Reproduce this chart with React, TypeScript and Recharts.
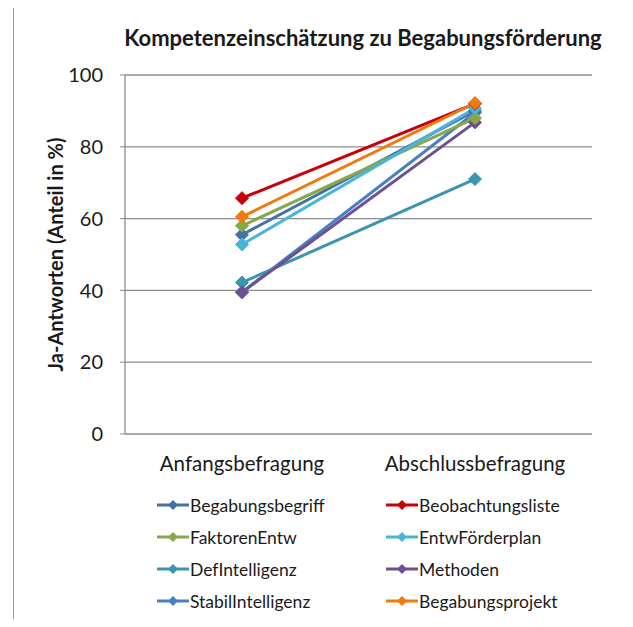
import { LineChart, Line, XAxis, YAxis, CartesianGrid } from 'recharts'

const CATEGORIES = ['Anfangsbefragung', 'Abschlussbefragung']

// Werte pro Reihe: [Anfang, Abschluss]
const BEGABUNGSBEGRIFF = [55.5, 90]
const BEOBACHTUNGSLISTE = [65.7, 92]
const FAKTOREN_ENTW = [58, 88]
const ENTW_FOERDERPLAN = [52.8, 90.7]
const DEF_INTELLIGENZ = [42.2, 71]
const METHODEN = [39.5, 86.8]
const STABIL_INTELLIGENZ = [39.5, 89.5]
const BEGABUNGSPROJEKT = [60.5, 92.2]

const Y_TICKS = [0, 20, 40, 60, 80, 100]

// Legende zeilenweise, wie im Original
const SERIES = [
  { key: 'Begabungsbegriff', values: BEGABUNGSBEGRIFF, color: '#4470A8' },
  { key: 'Beobachtungsliste', values: BEOBACHTUNGSLISTE, color: '#C8000A' },
  { key: 'FaktorenEntw', values: FAKTOREN_ENTW, color: '#86A84A' },
  { key: 'EntwFörderplan', values: ENTW_FOERDERPLAN, color: '#47B4D8' },
  { key: 'DefIntelligenz', values: DEF_INTELLIGENZ, color: '#3A96AE' },
  { key: 'Methoden', values: METHODEN, color: '#6E5090' },
  { key: 'StabilIntelligenz', values: STABIL_INTELLIGENZ, color: '#4A7EC4' },
  { key: 'Begabungsprojekt', values: BEGABUNGSPROJEKT, color: '#F07A10' },
]

// Zeichenreihenfolge: Methoden bleibt unten sichtbar
const DRAW_ORDER = [
  'StabilIntelligenz', 'Begabungsbegriff', 'DefIntelligenz', 'Methoden',
  'FaktorenEntw', 'EntwFörderplan', 'Beobachtungsliste', 'Begabungsprojekt',
]

const data = CATEGORIES.map((name, i) => {
  const row: Record<string, string | number> = { name }
  SERIES.forEach(s => { row[s.key] = s.values[i] })
  return row
})

const FONT = 'Lato, "Open Sans", sans-serif'
const TEXT = '#1a1a1a'
const GRID = '#8c8c8c'

const Diamond = (props: any) => {
  const { cx, cy, stroke } = props
  if (cx == null || cy == null) return null
  const r = 6.5
  return (
    <path
      d={`M${cx},${cy - r} L${cx + r},${cy} L${cx},${cy + r} L${cx - r},${cy} Z`}
      fill={stroke}
      stroke={stroke}
    />
  )
}

function LegendIcon({ color }: { color: string }) {
  return (
    <svg width={32} height={12} style={{ flexShrink: 0 }}>
      <line x1={0} y1={6} x2={32} y2={6} stroke={color} strokeWidth={3} />
      <path d="M16,1 L21,6 L16,11 L11,6 Z" fill={color} />
    </svg>
  )
}

export default function App() {
  return (
    <div style={{ position: 'relative', width: 633, height: 627, margin: -8, overflow: 'hidden', background: '#fff', fontFamily: FONT }}>
      {/* Rahmen */}
      <div style={{ position: 'absolute', left: 13, top: 6, width: 614, height: 640, border: '1px solid #9a9a9a' }} />

      <div style={{ position: 'absolute', left: 363, top: 24, transform: 'translateX(-50%)', fontSize: 22, fontWeight: 700, color: TEXT, whiteSpace: 'nowrap', lineHeight: '28px' }}>
        Kompetenzeinschätzung zu Begabungsförderung
      </div>

      <div style={{ position: 'absolute', left: 0, top: 0 }}>
        <LineChart width={633} height={627} data={data} margin={{ top: 75, right: 41, bottom: 153, left: 65 }}>
          <CartesianGrid horizontal vertical={false} stroke={GRID} strokeWidth={1.3} />
          <XAxis
            dataKey="name"
            axisLine={false}
            tickLine={false}
            tickSize={0}
            tickMargin={22}
            height={40}
            padding={{ left: 117, right: 117 }}
            tick={{ fontSize: 20.5, fill: TEXT, fontFamily: FONT }}
          />
          <YAxis
            domain={[0, 100]}
            ticks={Y_TICKS}
            width={60}
            axisLine={{ stroke: GRID, strokeWidth: 1.3 }}
            tickLine={{ stroke: GRID }}
            tickSize={5}
            tickMargin={17}
            tick={{ fontSize: 20, fill: TEXT, fontFamily: FONT }}
            label={{
              value: 'Ja-Antworten (Anteil in %)',
              angle: -90,
              position: 'center',
              dx: -39,
              style: { fontSize: 20, fontWeight: 700, fill: TEXT, fontFamily: FONT, textAnchor: 'middle' },
            }}
          />
          {DRAW_ORDER.map(k => {
            const s = SERIES.find(x => x.key === k)!
            return (
              <Line
                key={s.key}
                dataKey={s.key}
                stroke={s.color}
                strokeWidth={3}
                dot={<Diamond />}
                activeDot={false}
                isAnimationActive={false}
              />
            )
          })}
        </LineChart>
      </div>

      {/* Legende */}
      <div style={{ position: 'absolute', left: 157, top: 489, display: 'grid', gridTemplateColumns: '229px 210px' }}>
        {SERIES.map(s => (
          <div key={s.key} style={{ display: 'flex', alignItems: 'center', height: 32, gap: 1, fontSize: 17.5, color: TEXT }}>
            <LegendIcon color={s.color} />
            <span>{s.key}</span>
          </div>
        ))}
      </div>
    </div>
  )
}
